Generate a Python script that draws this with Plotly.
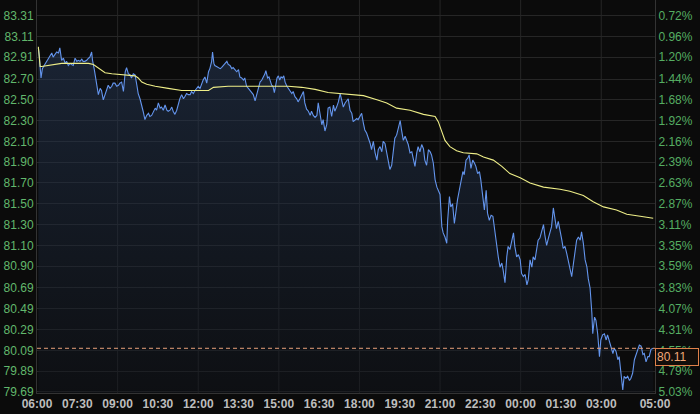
import plotly.graph_objects as go
import pandas as pd

# ---- data (minutes after 06:00, price) ----
price_minutes = [
    3, 5, 9, 12, 16, 22, 25, 29, 33, 36,
    40, 44, 48, 51, 55, 59, 63, 66, 70, 74,
    77, 81, 85, 89, 92, 96, 100, 103, 107, 111,
    115, 118, 122, 124, 128, 131, 134, 137, 141, 144,
    148, 152, 156, 159, 163, 167, 170, 174, 178, 182,
    185, 189, 193, 197, 200, 204, 208, 211, 215, 219,
    223, 226, 230, 234, 237, 241, 245, 249, 252, 256,
    260, 264, 267, 271, 275, 278, 282, 286, 290, 293,
    297, 301, 304, 308, 312, 316, 319, 323, 327, 330,
    334, 338, 342, 345, 349, 353, 357, 360, 364, 368,
    371, 375, 379, 383, 386, 390, 392, 395, 397, 401,
    405, 409, 412, 416, 420, 424, 427, 431, 435, 438,
    442, 446, 450, 453, 457, 461, 464, 468, 472, 476,
    479, 483, 487, 491, 494, 498, 502, 505, 509, 511,
    515, 518, 521, 524, 527, 530, 533, 536, 539, 542,
    545, 548, 551, 554, 558, 561, 565, 569, 572, 576,
    580, 583, 587, 591, 595, 598, 602, 606, 610, 613,
    617, 621, 625, 628, 632, 636, 639, 643, 647, 650,
    654, 658, 662, 665, 669, 673, 677, 680, 684, 688,
    692, 695, 699, 703, 706, 710, 714, 717, 721, 725,
    729, 732, 736, 740, 744, 747, 751, 755, 759, 762,
    766, 770, 773, 777, 781, 784, 788, 792, 796, 799,
    803, 807, 811, 814, 818, 822, 826, 829, 833, 837,
    840, 844, 848, 851, 855, 859, 863, 866, 870, 874,
    878, 881, 885, 889, 893, 896, 900, 904, 907, 911,
    915, 917, 921, 924, 928, 932, 936, 939, 943, 947,
    951, 954, 958, 962, 965, 969, 973, 977, 980, 984,
    988, 991, 995, 999, 1003, 1006, 1010, 1014, 1018, 1021,
    1025, 1030, 1034, 1038, 1041, 1045, 1049, 1052, 1056, 1060,
    1064, 1067, 1071, 1075, 1079, 1082, 1086, 1090, 1094, 1097,
    1101, 1105, 1108, 1112, 1116, 1119, 1123, 1127, 1131, 1134,
    1138, 1142, 1146, 1149, 1153, 1157, 1160, 1164, 1168, 1172,
    1175, 1179, 1183, 1186, 1190, 1194, 1198, 1201, 1205, 1209,
    1213, 1216, 1220, 1224, 1228, 1231, 1235, 1239, 1241, 1245,
    1248, 1252, 1256, 1259, 1263, 1267, 1271, 1274, 1278, 1282,
    1286, 1289, 1293, 1297, 1300, 1304, 1308, 1311, 1315, 1319,
    1323, 1326, 1330, 1334, 1338, 1341, 1345, 1349, 1353, 1356,
    1360, 1364, 1367, 1371, 1376,
]
price_values = [
    83.00, 82.93, 82.71, 82.80, 82.83, 82.87, 82.90, 82.92, 82.95, 82.91,
    82.93, 82.96, 82.95, 83.00, 82.88, 82.90, 82.85, 82.87, 82.83, 82.85,
    82.84, 82.83, 82.90, 82.87, 82.88, 82.87, 82.89, 82.87, 82.87, 82.88,
    82.90, 82.91, 82.96, 82.88, 82.79, 82.71, 82.66, 82.55, 82.61, 82.59,
    82.50, 82.56, 82.61, 82.64, 82.61, 82.63, 82.66, 82.66, 82.63, 82.64,
    82.66, 82.67, 82.58, 82.77, 82.81, 82.75, 82.74, 82.71, 82.75, 82.74,
    82.64, 82.56, 82.51, 82.45, 82.39, 82.31, 82.35, 82.37, 82.34, 82.35,
    82.39, 82.42, 82.40, 82.47, 82.42, 82.43, 82.40, 82.45, 82.40, 82.39,
    82.40, 82.43, 82.39, 82.36, 82.40, 82.48, 82.51, 82.55, 82.51, 82.53,
    82.56, 82.55, 82.55, 82.58, 82.56, 82.59, 82.61, 82.63, 82.61, 82.67,
    82.69, 82.72, 82.66, 82.77, 82.80, 82.87, 82.96, 82.85, 82.83, 82.82,
    82.81, 82.80, 82.81, 82.83, 82.85, 82.87, 82.84, 82.83, 82.80, 82.81,
    82.79, 82.77, 82.79, 82.72, 82.71, 82.69, 82.71, 82.63, 82.61, 82.59,
    82.58, 82.55, 82.49, 82.55, 82.59, 82.67, 82.69, 82.71, 82.75, 82.78,
    82.71, 82.72, 82.67, 82.64, 82.63, 82.57, 82.64, 82.71, 82.73, 82.69,
    82.72, 82.71, 82.73, 82.67, 82.63, 82.61, 82.59, 82.56, 82.58, 82.53,
    82.51, 82.48, 82.51, 82.55, 82.58, 82.47, 82.41, 82.39, 82.35, 82.39,
    82.35, 82.33, 82.35, 82.47, 82.34, 82.26, 82.31, 82.20, 82.26, 82.42,
    82.43, 82.34, 82.45, 82.39, 82.43, 82.48, 82.56, 82.51, 82.43, 82.47,
    82.50, 82.51, 82.40, 82.37, 82.29, 82.31, 82.32, 82.31, 82.34, 82.37,
    82.27, 82.21, 82.18, 82.13, 82.08, 82.02, 82.10, 81.99, 81.92, 82.02,
    82.05, 82.00, 82.10, 82.08, 82.00, 81.92, 81.83, 81.87, 82.00, 82.13,
    82.16, 82.23, 82.30, 82.21, 82.11, 82.15, 82.10, 82.07, 81.99, 82.00,
    81.94, 81.86, 81.99, 82.05, 82.00, 82.07, 82.03, 81.92, 81.87, 82.02,
    82.00, 81.97, 81.89, 81.73, 81.66, 81.63, 81.59, 81.28, 81.22, 81.18,
    81.12, 81.34, 81.57, 81.47, 81.50, 81.31, 81.47, 81.54, 81.63, 81.73,
    81.81, 81.78, 81.92, 81.94, 81.97, 81.84, 81.92, 81.89, 81.86, 81.79,
    81.81, 81.73, 81.57, 81.44, 81.63, 81.41, 81.34, 81.39, 81.38, 81.28,
    81.12, 80.99, 80.89, 80.93, 80.86, 80.74, 80.99, 81.09, 81.06, 81.15,
    81.22, 81.09, 80.99, 81.01, 80.96, 80.83, 80.80, 80.82, 80.72, 80.77,
    80.96, 80.89, 80.99, 80.96, 81.09, 81.15, 81.17, 81.23, 81.30, 81.20,
    81.10, 81.17, 81.23, 81.28, 81.46, 81.36, 81.26, 81.33, 81.25, 81.15,
    81.07, 81.09, 81.02, 80.96, 80.89, 80.80, 80.93, 81.02, 81.15, 81.18,
    81.15, 81.23, 81.12, 80.96, 80.89, 80.78, 80.69, 80.45, 80.25, 80.41,
    80.38, 80.25, 80.03, 80.19, 80.24, 80.25, 80.19, 80.24, 80.17, 80.13,
    80.06, 80.11, 80.08, 80.00, 80.03, 79.87, 79.71, 79.84, 79.82, 79.84,
    79.80, 79.82, 79.87, 80.00, 80.05, 80.08, 80.14, 80.13, 80.05, 80.06,
    79.98, 80.03, 80.03, 80.10, 80.11,
]
avg_minutes = [
    3, 7, 10, 25, 40, 55, 85, 115, 126, 133,
    141, 152, 167, 189, 219, 226, 234, 245, 264, 293,
    323, 353, 383, 394, 427, 502, 561, 591, 621, 650,
    680, 699, 729, 759, 781, 803, 833, 863, 889, 896,
    904, 911, 922, 937, 952, 982, 997, 1019, 1038, 1056,
    1079, 1101, 1131, 1168, 1190, 1220, 1242, 1265, 1294, 1317,
    1347, 1376,
]
avg_values = [
    83.01, 82.82, 82.82, 82.83, 82.84, 82.85, 82.85, 82.85, 82.84, 82.82,
    82.79, 82.76, 82.75, 82.74, 82.73, 82.71, 82.67, 82.65, 82.63, 82.61,
    82.59, 82.59, 82.59, 82.62, 82.63, 82.63, 82.63, 82.62, 82.60, 82.57,
    82.56, 82.55, 82.54, 82.50, 82.47, 82.42, 82.40, 82.36, 82.34, 82.29,
    82.19, 82.11, 82.05, 82.01, 81.99, 81.98, 81.95, 81.92, 81.86, 81.79,
    81.75, 81.70, 81.66, 81.64, 81.62, 81.58, 81.52, 81.47, 81.44, 81.40,
    81.38, 81.36,
]
last_price = 80.11
last_price_label = "80.11"

price_tick_labels = ["79.69", "79.89", "80.09", "80.29", "80.49", "80.69", "80.90",
                     "81.10", "81.30", "81.50", "81.70", "81.90", "82.10", "82.30",
                     "82.50", "82.70", "82.91", "83.11", "83.31"]
pct_tick_labels = ["5.03%", "4.79%", "4.55%", "4.31%", "4.07%", "3.83%", "3.59%",
                   "3.35%", "3.11%", "2.87%", "2.63%", "2.39%", "2.16%", "1.92%",
                   "1.68%", "1.44%", "1.20%", "0.96%", "0.72%"]
time_tick_labels = ["06:00", "07:30", "09:00", "10:30", "12:00", "13:30", "15:00",
                    "16:30", "18:00", "19:30", "21:00", "22:30", "00:00", "01:30",
                    "03:00", "05:00"]
grid_time_labels = ["09:00", "12:00", "15:00", "18:00", "21:00", "00:00", "03:00"]
session_end_label = "05:00"

assert len(price_minutes) == len(price_values)
assert len(avg_minutes) == len(avg_values)

base = pd.Timestamp("2024-03-04 06:00")


def to_time(label):
    h, m = map(int, label.split(":"))
    ts = base.normalize() + pd.Timedelta(hours=h, minutes=m)
    if ts < base:
        ts += pd.Timedelta(days=1)
    return ts


price_times = [base + pd.Timedelta(minutes=m) for m in price_minutes]
avg_times = [base + pd.Timedelta(minutes=m) for m in avg_minutes]
tick_times = [to_time(t) for t in time_tick_labels]
grid_times = [to_time(t) for t in grid_time_labels]
x_end = to_time(session_end_label)

price_tickvals = [float(v) for v in price_tick_labels]
y_range = [79.68, 83.46]

BG = "#0b0b0b"
GRID = "#262626"

fig = go.Figure()
fig.add_trace(go.Scatter(
    x=price_times, y=price_values, mode="lines",
    line=dict(color="#6495ed", width=1.1),
    fill="tozeroy",
    fillgradient=dict(type="vertical",
                      colorscale=[[0, "rgba(17,21,29,0.45)"], [1, "rgba(40,60,92,0.5)"]],
                      start=79.69, stop=83.0),
    hoverinfo="skip", showlegend=False,
))
fig.add_trace(go.Scatter(
    x=avg_times, y=avg_values, mode="lines",
    line=dict(color="#eeee88", width=1.1),
    hoverinfo="skip", showlegend=False,
))
fig.add_trace(go.Scatter(
    x=[base, x_end], y=y_range, mode="none", yaxis="y2",
    hoverinfo="skip", showlegend=False,
))

shapes = [dict(type="line", xref="x", yref="paper", x0=t, x1=t, y0=0, y1=1,
               line=dict(color=GRID, width=1), layer="below") for t in grid_times]
shapes.append(dict(type="line", xref="paper", yref="y", x0=0, x1=1,
                   y0=last_price, y1=last_price,
                   line=dict(color="#e8a07a", width=1, dash="4px,3px"), layer="above"))

fig.update_layout(
    width=700, height=414,
    margin=dict(l=37, r=45, t=0, b=21, autoexpand=False),
    paper_bgcolor=BG, plot_bgcolor=BG,
    shapes=shapes,
    xaxis=dict(
        type="date", range=[base, x_end],
        tickmode="array", tickvals=tick_times, ticktext=time_tick_labels,
        showgrid=False, zeroline=False, ticks="",
        showline=True, linecolor="#333333", linewidth=1, mirror=False,
        tickfont=dict(family="Liberation Sans, Arial", size=12, color="#bdbdbd", weight="bold"),
    ),
    yaxis=dict(
        range=y_range, tickmode="array", tickvals=price_tickvals, ticktext=price_tick_labels,
        showgrid=True, gridcolor=GRID, gridwidth=1, zeroline=False, ticks="",
        showline=True, linecolor="#333333", linewidth=1,
        tickfont=dict(family="Liberation Sans, Arial", size=12, color="#62b86c"),
    ),
    yaxis2=dict(
        overlaying="y", side="right", range=y_range,
        tickmode="array", tickvals=price_tickvals, ticktext=pct_tick_labels,
        showgrid=False, zeroline=False, ticks="",
        showline=True, linecolor="#333333", linewidth=1,
        tickfont=dict(family="Liberation Sans, Arial", size=12, color="#55ad62"),
    ),
    annotations=[dict(
        xref="paper", yref="y", x=1, y=last_price, xanchor="left", yanchor="top",
        text=last_price_label, showarrow=False, align="left", width=40,
        font=dict(family="Liberation Sans, Arial", size=12, color="#f0a878"),
        bgcolor="#120e0b", bordercolor="#e0804a", borderwidth=1, borderpad=1,
    )],
)

fig.write_html(
    "out.html",
    config={"displayModeBar": False},
    post_script=("document.documentElement.style.margin='0';"
                 "document.body.style.margin='0';document.body.style.padding='0';"
                 "document.body.style.overflow='hidden';"
                 "document.body.style.background='#0b0b0b';"),
)
